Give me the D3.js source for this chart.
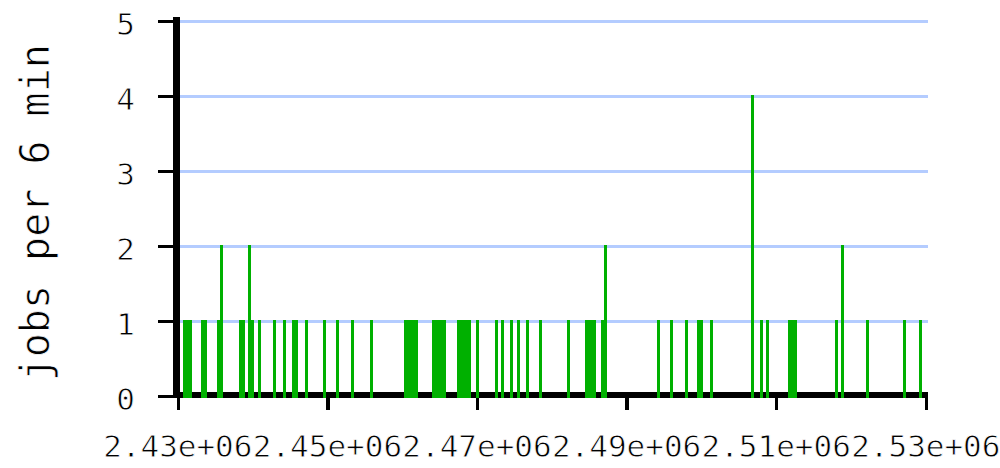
<!DOCTYPE html>
<html>
<head>
<meta charset="utf-8">
<script src="https://cdn.jsdelivr.net/npm/d3@7"></script>
<style>
  html, body { margin: 0; padding: 0; background: #fff; }
  svg { display: block; }
  text { font-family: "DejaVu Sans Mono", "Liberation Mono", monospace; fill: #000; stroke: #fff; stroke-width: 0.8px; }
</style>
</head>
<body>
<svg id="chart" width="1000" height="468"></svg>
<script>
// ---- data ----
const binSize = 360; // 6 minutes
const binStarts = [
  2430740, 2431100, 2431460,
  2433140, 2433500,
  2435280, 2435640,
  2438220, 2438580,
  2439420, 2439780,
  2440760,
  2442770,
  2444100,
  2445310, 2445670,
  2446960,
  2449450,
  2451190,
  2453200,
  2455740,
  2460280, 2460640, 2461000, 2461360, 2461720,
  2464020, 2464380, 2464740, 2465100, 2465460,
  2467370, 2467730, 2468090, 2468450, 2468810,
  2469910,
  2472450,
  2473250,
  2474450,
  2475390,
  2476590,
  2478260,
  2482010,
  2484480, 2484840, 2485200, 2485560,
  2486620, 2486980,
  2494100,
  2495770,
  2497850,
  2499450, 2499810,
  2501190,
  2506600,
  2507880,
  2508680,
  2511620, 2511980, 2512340,
  2517900,
  2518700,
  2522050,
  2526990,
  2529130
];
const jobs = [
  1, 1, 1,
  1, 1,
  1, 2,
  1, 1,
  2, 1,
  1,
  1,
  1,
  1, 1,
  1,
  1,
  1,
  1,
  1,
  1, 1, 1, 1, 1,
  1, 1, 1, 1, 1,
  1, 1, 1, 1, 1,
  1,
  1,
  1,
  1,
  1,
  1,
  1,
  1,
  1, 1, 1, 1,
  1, 2,
  1,
  1,
  1,
  1, 1,
  1,
  4,
  1,
  1,
  1, 1, 1,
  1,
  2,
  1,
  1,
  1
];
const xTicks = [2430000, 2450000, 2470000, 2490000, 2510000, 2530000];
const yTicks = [0, 1, 2, 3, 4, 5];
const yTitle = "jobs per 6 min";

// ---- chart ----
const svg = d3.select("#chart");
const x = d3.scaleLinear().domain([2430000, 2530000]).range([177.8, 925.8]);
const y = d3.scaleLinear().domain([0, 5]).range([396, 21.5]);

const fmt = v => v.toExponential(2).replace(/e([+-])(\d)$/, "e$10$2");

const gridColor = "#b4ccff";
const barColor = "#00b000";

// grid lines
svg.append("g").selectAll("line").data(yTicks.filter(t => t > 0)).join("line")
  .attr("x1", x.range()[0]).attr("x2", x.range()[1] + 2)
  .attr("y1", d => y(d)).attr("y2", d => y(d))
  .attr("stroke", gridColor).attr("stroke-width", 3)
  .attr("shape-rendering", "crispEdges");

// x axis line
const x0 = x.range()[0], x1 = x.range()[1];
svg.append("rect")
  .attr("x", x0 - 4.5).attr("y", y(0) - 4.5)
  .attr("width", x1 - x0 + 6.5).attr("height", 6.5)
  .attr("fill", "#000").attr("shape-rendering", "crispEdges");

// y axis line
svg.append("rect")
  .attr("x", x0 - 4.5).attr("y", y(5) - 5)
  .attr("width", 6.5).attr("height", y(0) - y(5) + 7)
  .attr("fill", "#000").attr("shape-rendering", "crispEdges");

// x ticks
svg.append("g").selectAll("line").data(xTicks).join("line")
  .attr("x1", d => x(d) + 0.5).attr("x2", d => x(d) + 0.5)
  .attr("y1", y(0)).attr("y2", y(0) + 14)
  .attr("stroke", "#000").attr("stroke-width", 3.5)
  .attr("shape-rendering", "crispEdges");

// y ticks
svg.append("g").selectAll("line").data(yTicks).join("line")
  .attr("x1", x0 - 20).attr("x2", x0 - 3)
  .attr("y1", d => y(d)).attr("y2", d => y(d))
  .attr("stroke", "#000").attr("stroke-width", 3)
  .attr("shape-rendering", "crispEdges");

// x tick labels
svg.append("g").selectAll("text").data(xTicks).join("text")
  .attr("x", d => x(d)).attr("y", 457)
  .attr("text-anchor", "middle").attr("font-size", 31)
  .text(fmt);

// y tick labels
svg.append("g").selectAll("text").data(yTicks).join("text")
  .attr("x", 135).attr("y", d => y(d) + 13.5)
  .attr("text-anchor", "end").attr("font-size", 31)
  .text(d => d);

// y title
svg.append("text")
  .attr("transform", "translate(49," + ((y(0) + y(5)) / 2 + 4) + ") rotate(-90)")
  .attr("text-anchor", "middle").attr("font-size", 40)
  .text(yTitle);

// bars
const bars = binStarts.map((s, i) => ({ start: s, count: jobs[i] }));
svg.append("g").selectAll("rect").data(bars).join("rect")
  .attr("x", d => x(d.start))
  .attr("width", d => Math.max(3, x(d.start + binSize) - x(d.start) + 0.4))
  .attr("y", d => y(d.count) - 1.5)
  .attr("height", d => y(0) - y(d.count) + 3.5)
  .attr("fill", barColor)
  .attr("shape-rendering", "crispEdges");
</script>
</body>
</html>
